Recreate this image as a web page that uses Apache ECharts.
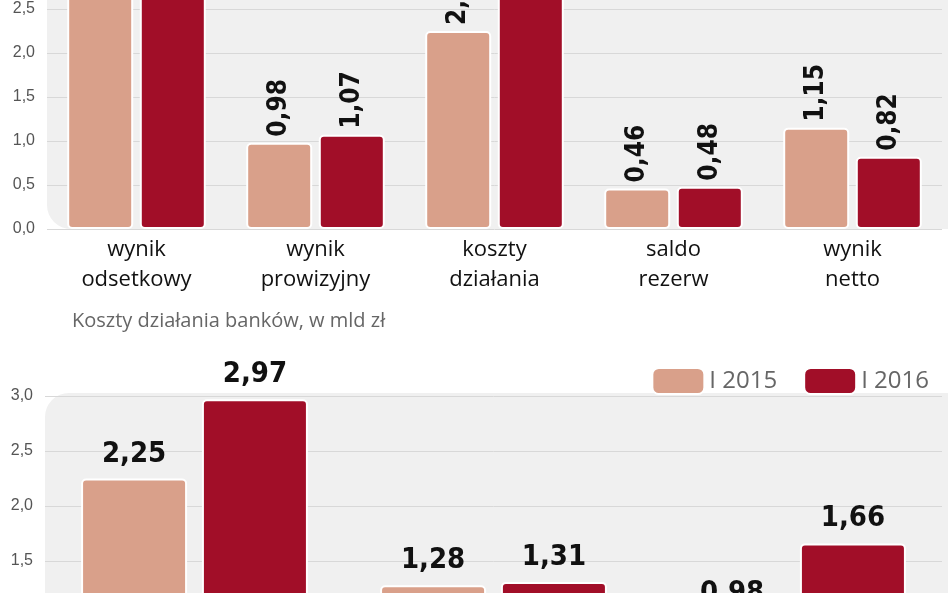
<!DOCTYPE html>
<html><head><meta charset="utf-8">
<script src="https://cdn.jsdelivr.net/npm/echarts@6/dist/echarts.min.js"></script>
<style>html,body{margin:0;padding:0;overflow:hidden;width:948px;height:593px;background:#fff}
#c{position:absolute;left:0;top:-100px;width:948px;height:860px}</style>
</head><body><div id="c"></div>
<script>
const topCats = ['wynik\nodsetkowy','wynik\nprowizyjny','koszty\ndziałania','saldo\nrezerw','wynik\nnetto'];
const top2015 = [3.10, 0.98, 2.25, 0.46, 1.15];
const top2016 = [3.30, 1.07, 2.97, 0.48, 0.82];
const botCats = ['wynagrodzenia','administracyjne','pozostałe'];
const bot2015 = [2.25, 1.28, 0.98];
const bot2016 = [2.97, 1.31, 1.66];
const seriesNames = ['I 2015','I 2016'];
const C1='#d9a08a', C2='#a10e28';
const NF = '"Liberation Sans Narrow","DejaVu Sans Condensed",sans-serif';
const fmt = v => v.toFixed(2).replace('.', ',');
const fmt1 = v => v.toFixed(1).replace('.', ',');
const chart = echarts.init(document.getElementById('c'));
const itemStyle = c => ({color:c, borderColor:'#fff', borderWidth:2, borderRadius:4});
chart.setOption({
  animation:false,
  graphic:[
    {type:'rect', shape:{x:47,y:0,width:901,height:329,r:[0,0,0,24]}, style:{fill:'#f0f0f0'}, z:-10},
    {type:'rect', shape:{x:45,y:493,width:903,height:360,r:[24,0,0,0]}, style:{fill:'#f0f0f0'}, z:-10},
    {type:'text', left:72, top:411, style:{text:'Koszty działania banków, w mld zł', fill:'#666', font:'20px "Open Sans"'}}
  ],
  legend:{data:seriesNames, right:14, top:462, itemWidth:52, itemHeight:26, itemGap:26,
    textStyle:{fontSize:24, color:'#666', fontFamily:'Open Sans'}},
  grid:[{left:47, top:21, width:895, height:308},
        {left:45, top:496, width:897, height:330}],
  xAxis:[{gridIndex:0, type:'category', data:topCats, axisLine:{show:false}, axisTick:{show:false},
          axisLabel:{fontSize:22, color:'#111', lineHeight:30, margin:6, fontFamily:'Open Sans'}},
         {gridIndex:1, type:'category', data:botCats, axisLine:{show:false}, axisTick:{show:false},
          axisLabel:{fontSize:22, color:'#111'}}],
  yAxis:[{gridIndex:0, min:0, max:3.5, interval:0.5, axisLabel:{formatter:fmt1, fontSize:16, color:'#555', margin:12},
          splitLine:{lineStyle:{color:'#d8d8d8'}}},
         {gridIndex:1, min:0, max:3, interval:0.5, axisLabel:{formatter:fmt1, fontSize:16, color:'#555', margin:12},
          splitLine:{lineStyle:{color:'#d8d8d8'}}}],
  series:[
    {name:seriesNames[0], type:'bar', xAxisIndex:0, yAxisIndex:0, data:top2015, barWidth:66, barGap:'10%', itemStyle:itemStyle(C1),
     label:{show:true, position:'top', rotate:90, align:'left', verticalAlign:'middle', distance:6, formatter:p=>fmt(p.value), fontSize:26, fontWeight:'bold', color:'#111', fontFamily:NF}},
    {name:seriesNames[1], type:'bar', xAxisIndex:0, yAxisIndex:0, data:top2016, barWidth:66, barGap:'10%', itemStyle:itemStyle(C2),
     label:{show:true, position:'top', rotate:90, align:'left', verticalAlign:'middle', distance:6, formatter:p=>fmt(p.value), fontSize:26, fontWeight:'bold', color:'#111', fontFamily:NF}},
    {name:seriesNames[0], type:'bar', xAxisIndex:1, yAxisIndex:1, data:bot2015, barWidth:106, barGap:'14%', itemStyle:itemStyle(C1),
     label:{show:true, position:'top', distance:10, formatter:p=>fmt(p.value), fontSize:29, fontWeight:'bold', color:'#111', fontFamily:NF}},
    {name:seriesNames[1], type:'bar', xAxisIndex:1, yAxisIndex:1, data:bot2016, barWidth:106, barGap:'14%', itemStyle:itemStyle(C2),
     label:{show:true, position:'top', distance:10, formatter:p=>fmt(p.value), fontSize:29, fontWeight:'bold', color:'#111', fontFamily:NF}}
  ]
});
</script></body></html>
